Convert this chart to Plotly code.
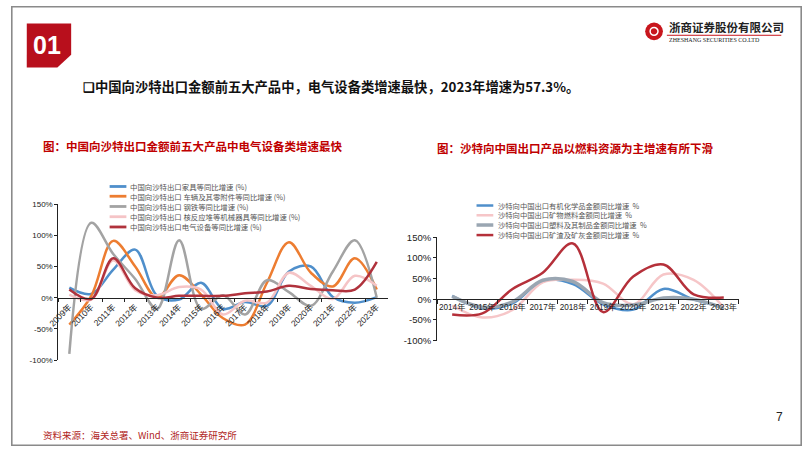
import plotly.graph_objects as go

W, H = 802, 451

# ---------------- data ----------------
years_left = ['2009年', '2010年', '2011年', '2012年', '2013年', '2014年', '2015年', '2016年',
              '2017年', '2018年', '2019年', '2020年', '2021年', '2022年', '2023年']
furniture = [16, 6, 45, 77, 3, -3, 24, -18, -7, -13, 42, 50, 1, -8, 1]
vehicles = [-43, 3, 91, 50, 0, 36, 5, -33, -43, 24, 89, 40, 18, 63, 13]
steel = [-90, 120, 70, 30, -18, 92, -18, 4, -27, 28, 9, -13, 42, 92, 0]
machinery = [5, -3, 60, 12, 4, 17, 13, -27, -5, -8, 40, 19, -2, 35, 19]
electrical = [13, -2, 63, 15, 0, 3, 3, 3, 7, 10, 19, 14, 12, 13, 57.3]

left_names = ['中国向沙特出口家具等同比增速 (%)',
              '中国向沙特出口 车辆及其零附件等同比增速 (%)',
              '中国向沙特出口 钢铁等同比增速 (%)',
              '中国向沙特出口 核反应堆等机械器具等同比增速 (%)',
              '中国向沙特出口电气设备等同比增速 (%)']

years_right = ['2014年', '2015年', '2016年', '2017年', '2018年', '2019年', '2020年', '2021年', '2022年', '2023年']
organic = [8, -22, -10, 45, 37, -12, -25, 25, 0, -20]
fuel = [-15, -44, -26, 41, 47, 38, -12, 60, 47, -20]
plastic = [7, -19, -6, 46, 43, -8, -14, 3, 0, -22]
slag = [-37, -34, 25, 64, 135, -31, 55, 84, 12, 4]

right_names = ['沙特向中国出口有机化学品金额同比增速  %',
               '沙特向中国出口矿物燃料金额同比增速  %',
               '沙特向中国出口塑料及其制品金额同比增速  %',
               '沙特向中国出口矿渣及矿灰金额同比增速  %']

y_ticks = [-100, -50, 0, 50, 100, 150]
y_ticktext = ['-100%', '-50%', '0%', '50%', '100%', '150%']

# ---------------- styling ----------------
left_colors = ['#4F8FCB', '#ED7D31', '#A3A3A3', '#F5C4C6', '#B0323C']
left_widths = [2.5, 2.5, 2.5, 2.5, 2.5]
right_colors = ['#4F8FCB', '#F6C6C8', '#9AA6B2', '#B5303A']
right_widths = [2.5, 2.5, 3.5, 2.5]


def px(x):
    return x / W


def py(y):
    return 1 - y / H


L_x = [px(48), px(382)]
L_y = [py(363), py(203)]
R_x = [px(432), px(738)]
R_y = [py(343), py(237)]
zero_left = L_y[0] + (L_y[1] - L_y[0]) * 100 / 250
zero_right = R_y[0] + (R_y[1] - R_y[0]) * 100 / 250

fig = go.Figure()

left_series = [furniture, vehicles, steel, machinery, electrical]
for name, vals, c, w in zip(left_names, left_series, left_colors, left_widths):
    fig.add_trace(go.Scatter(x=years_left, y=vals, name=name, mode='lines',
                             line=dict(color=c, width=w, shape='spline', smoothing=1.0),
                             xaxis='x', yaxis='y', showlegend=False, hoverinfo='skip'))

right_series = [organic, fuel, plastic, slag]
for name, vals, c, w in zip(right_names, right_series, right_colors, right_widths):
    fig.add_trace(go.Scatter(x=years_right, y=vals, name=name, mode='lines',
                             line=dict(color=c, width=w, shape='spline', smoothing=1.0),
                             xaxis='x2', yaxis='y2', showlegend=False, hoverinfo='skip'))

axis_font = 'Liberation Sans, Arial, Noto Sans CJK SC'
cjk = 'Noto Sans CJK SC, Liberation Sans'

fig.update_layout(
    width=W, height=H, margin=dict(l=0, r=0, t=0, b=0),
    paper_bgcolor='white', plot_bgcolor='rgba(0,0,0,0)',
    xaxis=dict(domain=L_x, anchor='free', position=zero_left, type='category',
               range=[-0.5, 14.5], showline=True, linecolor='#222', linewidth=1,
               ticks='outside', tickson='boundaries', ticklen=3, tickcolor='#222',
               tickangle=-45, tickfont=dict(family=axis_font, size=8.5, color='#222'),
               showgrid=False, zeroline=False, fixedrange=True),
    yaxis=dict(domain=L_y, anchor='x', range=[-100, 150], tickvals=y_ticks, ticktext=y_ticktext,
               showline=True, linecolor='#222', linewidth=1, ticks='outside', ticklen=3,
               tickcolor='#222', tickfont=dict(family=axis_font, size=8, color='#222'),
               showgrid=False, zeroline=False, fixedrange=True),
    xaxis2=dict(domain=R_x, anchor='free', position=zero_right, type='category',
                range=[-0.5, 9.5], showline=True, linecolor='#222', linewidth=1,
                ticks='outside', tickson='boundaries', ticklen=4, tickcolor='#222',
                tickangle=0, tickfont=dict(family=axis_font, size=8.2, color='#222'),
                showgrid=False, zeroline=False, fixedrange=True),
    yaxis2=dict(domain=R_y, anchor='x2', range=[-100, 150], tickvals=y_ticks, ticktext=y_ticktext,
                showline=True, linecolor='#222', linewidth=1, ticks='outside', ticklen=3,
                tickcolor='#222', tickfont=dict(family=axis_font, size=9.5, color='#222'),
                showgrid=False, zeroline=False, fixedrange=True),
)

shapes = []
annotations = []

# slide border
shapes.append(dict(type='rect', xref='paper', yref='paper', x0=px(0.8), x1=px(801.2), y0=py(450.2), y1=py(0.8),
                   line=dict(color='#8a8a8a', width=1.6), fillcolor='rgba(0,0,0,0)', layer='above'))

# red "01" badge with cut corner
pts = [(16, 18), (61, 18), (61, 50), (47, 63), (16, 63)]
path = 'M ' + ' L '.join(f'{px(a):.5f},{py(b):.5f}' for a, b in pts) + ' Z'
shapes.append(dict(type='path', xref='paper', yref='paper', path=path, fillcolor='#B80F1C',
                   line=dict(width=0)))
annotations.append(dict(text='<b>01</b>', x=px(37), y=py(40), xref='paper', yref='paper',
                        showarrow=False, font=dict(family='Liberation Sans, Arial', size=25, color='white'),
                        xanchor='center', yanchor='middle'))

# logo
shapes.append(dict(type='circle', xref='paper', yref='paper', x0=px(643), x1=px(661), y0=py(35), y1=py(17),
                   fillcolor='#C8161D', line=dict(width=0)))
shapes.append(dict(type='circle', xref='paper', yref='paper', x0=px(648), x1=px(656), y0=py(30), y1=py(22),
                   fillcolor='rgba(0,0,0,0)', line=dict(color='white', width=1.5)))
shapes.append(dict(type='line', xref='paper', yref='paper', x0=px(665), x1=px(781), y0=py(30), y1=py(30),
                   line=dict(color='#C8161D', width=1)))
annotations.append(dict(text='<b>浙商证券股份有限公司</b>', x=px(665), y=py(22), xref='paper', yref='paper',
                        showarrow=False, font=dict(family=cjk, size=11.5, color='#222'),
                        xanchor='left', yanchor='middle'))
annotations.append(dict(text='ZHESHANG SECURITIES CO.LTD', x=px(665), y=py(35), xref='paper', yref='paper',
                        showarrow=False, font=dict(family='Liberation Serif, serif', size=6, color='#222'),
                        xanchor='left', yanchor='middle'))

# headline
annotations.append(dict(text='<b>❑中国向沙特出口金额前五大产品中，电气设备类增速最快，2023年增速为57.3%。</b>',
                        x=px(71), y=py(83), xref='paper', yref='paper', showarrow=False,
                        font=dict(family=cjk, size=13.3, color='#111'), xanchor='left', yanchor='middle'))

# chart titles
annotations.append(dict(text='<b>图：中国向沙特出口金额前五大产品中电气设备类增速最快</b>',
                        x=px(30), y=py(143), xref='paper', yref='paper', showarrow=False,
                        font=dict(family=cjk, size=11.5, color='#C00000'), xanchor='left', yanchor='middle'))
annotations.append(dict(text='<b>图：沙特向中国出口产品以燃料资源为主增速有所下滑</b>',
                        x=px(430), y=py(146), xref='paper', yref='paper', showarrow=False,
                        font=dict(family=cjk, size=11.5, color='#C00000'), xanchor='left', yanchor='middle'))

# legends (drawn manually)
left_leg_y = [185, 195, 205.5, 216, 226.5]
for name, c, yy in zip(left_names, left_colors, left_leg_y):
    shapes.append(dict(type='line', xref='paper', yref='paper', x0=px(100), x1=px(117), y0=py(yy), y1=py(yy),
                       line=dict(color=c, width=2.8)))
    annotations.append(dict(text=name, x=px(119), y=py(yy), xref='paper', yref='paper', showarrow=False,
                            font=dict(family=cjk, size=7.4, color='#555'), xanchor='left', yanchor='middle'))

right_leg_y = [204.5, 214.5, 224.5, 234.8]
for name, c, w, yy in zip(right_names, right_colors, right_widths, right_leg_y):
    shapes.append(dict(type='line', xref='paper', yref='paper', x0=px(472), x1=px(489), y0=py(yy), y1=py(yy),
                       line=dict(color=c, width=w)))
    annotations.append(dict(text=name, x=px(492), y=py(yy), xref='paper', yref='paper', showarrow=False,
                            font=dict(family=cjk, size=7.3, color='#555'), xanchor='left', yanchor='middle'))

# footer and page number
annotations.append(dict(text='资料来源：海关总署、Wind、浙商证券研究所', x=px(30), y=py(440), xref='paper', yref='paper',
                        showarrow=False, font=dict(family=cjk, size=9.5, color='#B01E23'),
                        xanchor='left', yanchor='middle'))
annotations.append(dict(text='7', x=px(779), y=py(421), xref='paper', yref='paper', showarrow=False,
                        font=dict(family='Liberation Sans, Arial', size=12, color='#222'),
                        xanchor='center', yanchor='middle'))

fig.update_layout(shapes=shapes, annotations=annotations)

fig.write_html('out.html')
